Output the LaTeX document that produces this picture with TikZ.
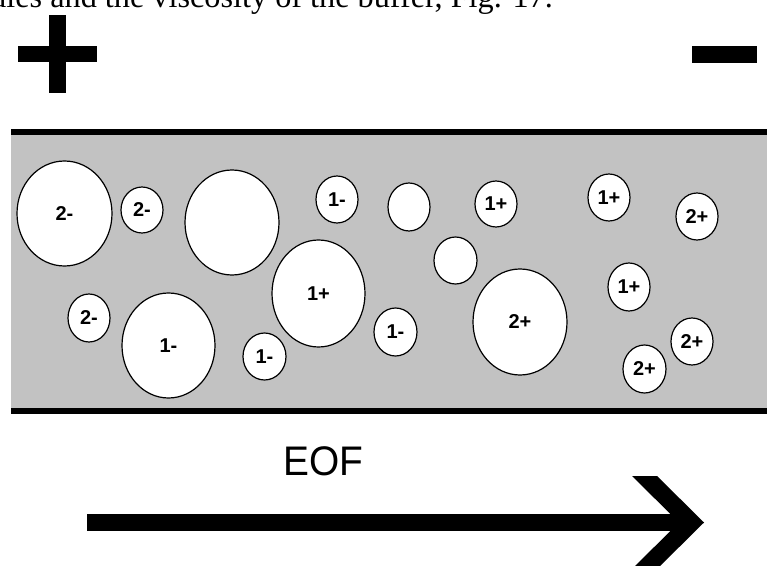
\documentclass[tikz,border=0pt]{standalone}
\usepackage{fontspec}
\setmainfont{Liberation Serif}
\newfontfamily\lsans{Liberation Sans}
\usetikzlibrary{shapes.geometric}
\definecolor{chanfill}{RGB}{194,194,194}
\begin{document}
\begin{tikzpicture}[x=0.75pt,y=-0.75pt,
  ion/.style 2 args={ellipse, draw=black, line width=0.9pt, fill=white, inner sep=0pt,
    minimum width=#1*1.5pt, minimum height=#2*1.5pt,
    font=\lsans\bfseries\fontsize{15}{15}\selectfont},
  wall/.style={line width=4.2pt},
  solid black/.style={fill=black}]
\useasboundingbox (0,0) rectangle (767,566);
\clip (0,0) rectangle (767,566);
% cut-off caption line at the top
\node[anchor=base west, inner sep=0pt, font=\fontsize{24.2}{24.2}\selectfont] (cap) at (-10,7.5) {ules and the viscosity of the buffer, Fig. 17.};
% electrode signs
\fill[solid black] (18,46) rectangle (97,62);
\fill[solid black] (49,15) rectangle (66,93);
\fill[solid black] (692,46) rectangle (757,63);
% channel
\fill[chanfill] (11,134) rectangle (767,409);
\draw[wall] (11,132) -- (767,132);
\draw[wall] (11,411) -- (767,411);
% ions
\node[ion={47.5}{52.5}] (n1) at (64.5,213.5) {2-};
\node[ion={21}{23}] (n2) at (142,210) {2-};
\node[ion={47}{52.5}] (n3) at (232,222.5) {};
\node[ion={21}{24}] (n4) at (89,318) {2-};
\node[ion={46.5}{52.5}] (n5) at (168.5,345.5) {1-};
\node[ion={21.5}{23.5}] (n6) at (264.5,356.5) {1-};
\node[ion={21}{23.5}] (n7) at (337,199.5) {1-};
\node[ion={21}{24}] (n8) at (409,207) {};
\node[ion={21}{23}] (n9) at (496,204) {1+};
\node[ion={21.5}{23.5}] (n10) at (455.5,260.5) {};
\node[ion={46.5}{53.5}] (n11) at (318.5,293.5) {1+};
\node[ion={21.5}{24}] (n12) at (395.5,332) {1-};
\node[ion={47}{53}] (n13) at (520,322) {2+};
\node[ion={21}{23.5}] (n14) at (609,197.5) {1+};
\node[ion={21}{23.5}] (n15) at (697,216.5) {2+};
\node[ion={21}{24}] (n16) at (629,287) {1+};
\node[ion={21}{23.5}] (n17) at (692,341.5) {2+};
\node[ion={21.5}{24}] (n18) at (644.5,369) {2+};
% EOF arrow
\node[inner sep=0pt, xscale=0.94, font=\lsans\fontsize{31}{31}\selectfont] (eof) at (323.5,461.5) {EOF};
\coordinate (tail) at (87,522.5);
\coordinate (tip) at (704,522.5);
\fill[solid black] (tail |- 0,514) rectangle (681,531);
\fill[solid black] (632,476) -- (657,476) -- (tip) -- (657,569) -- (632,569) -- (679,522.5) -- cycle;
\end{tikzpicture}
\end{document}
